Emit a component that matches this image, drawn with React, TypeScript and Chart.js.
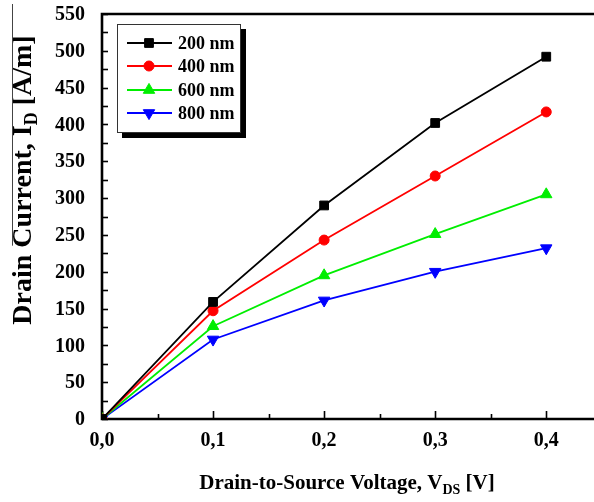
import React, { useEffect, useRef } from "react";
import { Chart, registerables } from "chart.js";
import { drawPoint } from "chart.js/helpers";

Chart.register(...registerables);

const VDS = [0, 0.1, 0.2, 0.3, 0.4];
const SERIES_LABELS = ["200 nm", "400 nm", "600 nm", "800 nm"];
const ID_200 = [0, 159, 290, 402, 492];
const ID_400 = [0, 147, 243, 330, 417];
const ID_600 = [0, 126, 195, 251, 305];
const ID_800 = [0, 108, 161, 200, 232];
const X_TICK_VALUES = [0, 0.1, 0.2, 0.3, 0.4];
const X_TICK_LABELS = ["0,0", "0,1", "0,2", "0,3", "0,4"];
const X_MINOR = [0.05, 0.15, 0.25, 0.35];
const Y_TICK_VALUES = [0, 50, 100, 150, 200, 250, 300, 350, 400, 450, 500, 550];
const Y_TICK_LABELS = ["0", "50", "100", "150", "200", "250", "300", "350", "400", "450", "500", "550"];
const Y_MINOR = [25, 75, 125, 175, 225, 275, 325, 375, 425, 475, 525];

const COLORS = ["#000000", "#ff0000", "#00ee00", "#0000ff"];
const STYLES: any[] = ["rect", "circle", "triangle", "triangle"];
const ROTS = [0, 0, 0, 180];
const RADII = [6.2, 5, 6.6, 6.6];
const SERIF = "'Liberation Serif', 'Times New Roman', serif";
const LEGEND_ROWS = [43, 66, 90, 113];

function drawSubText(ctx: CanvasRenderingContext2D, parts: [string, boolean][], size: number, subSize: number, subShift: number, cx: number, cy: number) {
  const main = `bold ${size}px ${SERIF}`;
  const sub = `bold ${subSize}px ${SERIF}`;
  let total = 0;
  const widths = parts.map(([t, s]) => {
    ctx.font = s ? sub : main;
    const w = ctx.measureText(t).width;
    total += w;
    return w;
  });
  let x = cx - total / 2;
  const start = x;
  ctx.textAlign = "left";
  ctx.textBaseline = "alphabetic";
  parts.forEach(([t, s], i) => {
    ctx.font = s ? sub : main;
    ctx.fillText(t, x, cy + (s ? subShift : 0));
    x += widths[i];
  });
  return start;
}

const axesPlugin = {
  id: "customAxes",
  beforeDatasetsDraw(chart: any) {
    const { ctx, chartArea } = chart;
    const xs = chart.scales.x;
    const ys = chart.scales.y;
    const { left, top, bottom } = chartArea;
    const right = chart.width;
    ctx.save();
    ctx.strokeStyle = "#000";
    ctx.lineWidth = 1.6;
    Y_TICK_VALUES.concat(Y_MINOR).forEach((v) => {
      const y = Math.round(ys.getPixelForValue(v)) + 0.5;
      ctx.beginPath();
      ctx.moveTo(left, y);
      ctx.lineTo(left + 6, y);
      ctx.stroke();
    });
    X_TICK_VALUES.forEach((v) => {
      const x = Math.round(xs.getPixelForValue(v)) + 0.5;
      ctx.beginPath();
      ctx.moveTo(x, bottom);
      ctx.lineTo(x, bottom - 8);
      ctx.stroke();
    });
    X_MINOR.forEach((v) => {
      const x = Math.round(xs.getPixelForValue(v)) + 0.5;
      ctx.beginPath();
      ctx.moveTo(x, bottom);
      ctx.lineTo(x, bottom - 5);
      ctx.stroke();
    });
    ctx.lineWidth = 2.6;
    ctx.beginPath();
    ctx.moveTo(right, top);
    ctx.lineTo(left, top);
    ctx.lineTo(left, bottom);
    ctx.lineTo(right, bottom);
    ctx.stroke();
    ctx.restore();
  },
  afterDraw(chart: any) {
    const { ctx, chartArea } = chart;
    const xs = chart.scales.x;
    const ys = chart.scales.y;
    const { left, bottom } = chartArea;
    ctx.save();
    ctx.fillStyle = "#000";
    ctx.font = `bold 20px ${SERIF}`;
    ctx.textAlign = "right";
    ctx.textBaseline = "middle";
    Y_TICK_VALUES.forEach((v, i) => {
      ctx.fillText(Y_TICK_LABELS[i], left - 17, ys.getPixelForValue(v) + 1);
    });
    ctx.textAlign = "center";
    X_TICK_VALUES.forEach((v, i) => {
      ctx.fillText(X_TICK_LABELS[i], xs.getPixelForValue(v), bottom + 22);
    });
    drawSubText(
      ctx,
      [["Drain-to-Source Voltage, V", false], ["DS", true], [" [V]", false]],
      21, 14, 5, 347, 489
    );
    ctx.save();
    ctx.translate(31, 180);
    ctx.rotate(-Math.PI / 2);
    const start = drawSubText(
      ctx,
      [["Drain Current, I", false], ["D", true], [" [A/m]", false]],
      28, 18, 6, 0, 0
    );
    ctx.font = `bold 28px ${SERIF}`;
    const drainW = ctx.measureText("Drain ").width;
    ctx.restore();
    const overlineEnd = 180 - (start + drainW) - 2;
    ctx.strokeStyle = "#444";
    ctx.lineWidth = 1;
    ctx.beginPath();
    ctx.moveTo(12.5, 4);
    ctx.lineTo(12.5, overlineEnd);
    ctx.stroke();
    // legend box
    const bx = 117, by = 24, bw = 123, bh = 108;
    ctx.fillStyle = "#000";
    ctx.fillRect(bx + 5, by + 5, bw + 1, bh + 1);
    ctx.fillStyle = "#fff";
    ctx.fillRect(bx, by, bw, bh);
    ctx.strokeStyle = "#333";
    ctx.lineWidth = 1;
    ctx.strokeRect(bx + 0.5, by + 0.5, bw, bh);
    chart.data.datasets.forEach((ds: any, i: number) => {
      const y = LEGEND_ROWS[i];
      ctx.strokeStyle = ds.borderColor;
      ctx.lineWidth = 1.8;
      ctx.beginPath();
      ctx.moveTo(127, y);
      ctx.lineTo(172, y);
      ctx.stroke();
      ctx.fillStyle = ds.backgroundColor;
      ctx.lineWidth = 1;
      drawPoint(ctx, { pointStyle: ds.pointStyle, rotation: ds.pointRotation, radius: ds.pointRadius, borderWidth: 1 } as any, 149, y);
      ctx.fillStyle = "#000";
      ctx.font = `bold 18px ${SERIF}`;
      ctx.textAlign = "left";
      ctx.textBaseline = "middle";
      ctx.fillText(ds.label, 178, y + 1);
    });
    ctx.restore();
  },
};

export default function App() {
  const ref = useRef<HTMLCanvasElement>(null);
  useEffect(() => {
    document.body.style.margin = "0";
    const seriesData = [ID_200, ID_400, ID_600, ID_800];
    const chart = new Chart(ref.current!, {
      type: "line",
      data: {
        datasets: seriesData.map((vals, i) => ({
          label: SERIES_LABELS[i],
          data: VDS.map((x, j) => ({ x, y: vals[j] })),
          borderColor: COLORS[i],
          backgroundColor: COLORS[i],
          borderWidth: 1.8,
          pointStyle: STYLES[i],
          pointRotation: ROTS[i],
          pointRadius: RADII[i],
          pointBorderWidth: 1,
          tension: 0,
        })),
      },
      options: {
        animation: false,
        responsive: false,
        events: [],
        layout: { autoPadding: false, padding: { left: 102, top: 14, right: 0, bottom: 83 } },
        plugins: { legend: { display: false }, tooltip: { enabled: false } },
        scales: {
          x: { type: "linear", min: 0, max: 0.443, display: false },
          y: { type: "linear", min: 0, max: 550, display: false },
        },
      },
      plugins: [axesPlugin],
    });
    return () => chart.destroy();
  }, []);
  return (
    <div style={{ width: 594, height: 502, background: "#fff" }}>
      <canvas ref={ref} width={594} height={502} style={{ display: "block" }} />
    </div>
  );
}
